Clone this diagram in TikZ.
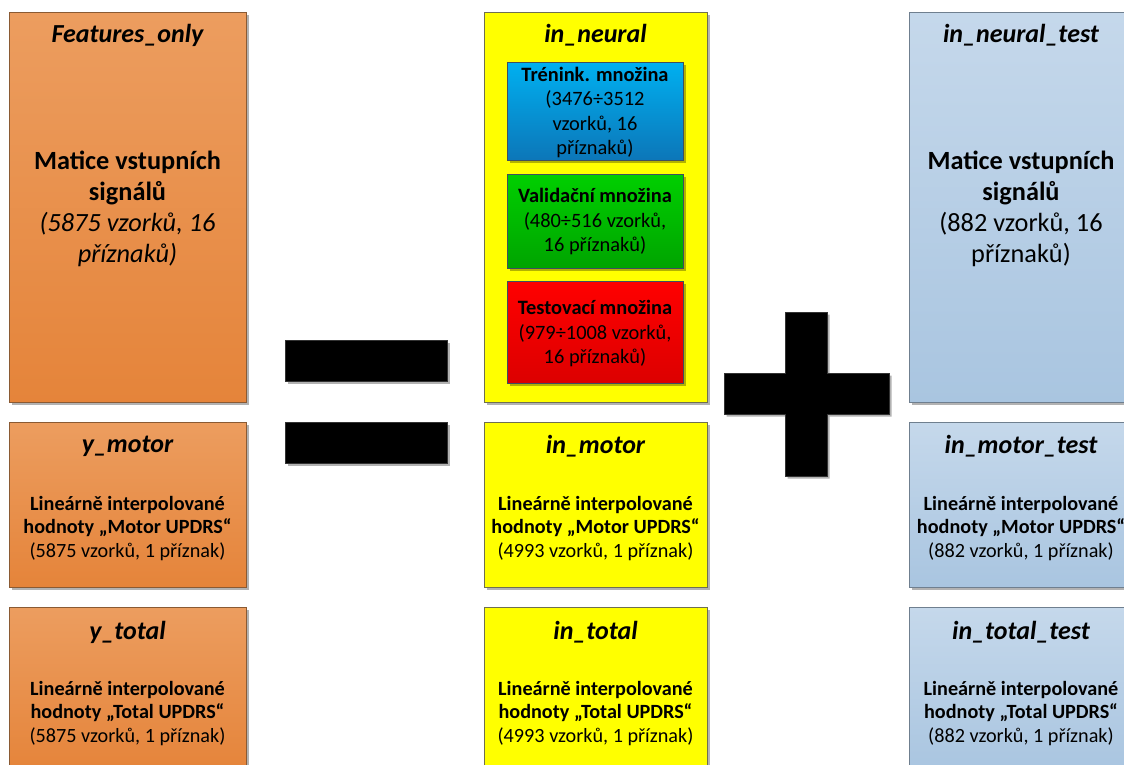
\documentclass[tikz,border=0pt]{standalone}
\usepackage{fontspec}
\setmainfont{Carlito}
\usetikzlibrary{shadows}
\definecolor{orT}{HTML}{EC9D5F}
\definecolor{orB}{HTML}{E5843A}
\definecolor{orD}{HTML}{8A5A33}
\definecolor{blT}{HTML}{C5D8EB}
\definecolor{blB}{HTML}{A9C5E0}
\definecolor{blD}{HTML}{6F7F8F}
\definecolor{yeF}{HTML}{FFFF00}
\definecolor{yeD}{HTML}{6F6F50}
\definecolor{cyT}{HTML}{00B0F0}
\definecolor{cyB}{HTML}{0C76B8}
\definecolor{grT}{HTML}{00CF00}
\definecolor{grB}{HTML}{00A400}
\definecolor{rdT}{HTML}{FF0000}
\definecolor{rdB}{HTML}{DC0000}
\definecolor{inD}{HTML}{3F4F5F}
\tikzset{
  box/.style={rectangle, line width=0.8pt, anchor=north west, inner sep=0pt,
    drop shadow={shadow xshift=2.5pt, shadow yshift=-2.5pt, opacity=0.3, fill=black}},
  orangebox/.style={box, top color=orT, bottom color=orB, draw=orD},
  bluebox/.style={box, top color=blT, bottom color=blB, draw=blD},
  yellowbox/.style={box, fill=yeF, draw=yeD},
  cyanbox/.style={box, top color=cyT, bottom color=cyB, draw=inD},
  greenbox/.style={box, top color=grT, bottom color=grB, draw=inD},
  redbox/.style={box, top color=rdT, bottom color=rdB, draw=inD},
  blackbar/.style={fill=black, draw=black!80, line width=0.5pt,
    drop shadow={shadow xshift=2.5pt, shadow yshift=-2.5pt, opacity=0.3, fill=black}},
  ttl/.style={inner sep=0pt, font=\fontsize{26}{31}\selectfont\bfseries\itshape},
  big/.style={inner sep=0pt, align=center, font=\fontsize{26.3}{31}\selectfont},
  body/.style={inner sep=0pt, align=center, font=\fontsize{20.2}{23.5}\selectfont},
  inner/.style={inner sep=0pt, align=center, font=\fontsize{20.4}{24.6}\selectfont},
}
\begin{document}
\begin{tikzpicture}[x=1pt, y=-1pt]
\useasboundingbox (0,0) rectangle (1124,764);
\clip (0,0) rectangle (1124,764);
% left column
\node[orangebox, minimum width=237, minimum height=390] (fo) at (9,12) {};
\node[orangebox, minimum width=237, minimum height=165] (ym) at (9,422) {};
\node[orangebox, minimum width=237, minimum height=165] (yt) at (9,607) {};
% middle column
\node[yellowbox, minimum width=223, minimum height=390] (inn) at (484,12) {};
\node[yellowbox, minimum width=223, minimum height=165] (inm) at (484,422) {};
\node[yellowbox, minimum width=223, minimum height=165] (intt) at (484,607) {};
\node[cyanbox, minimum width=176, minimum height=98] (tr) at (507,62) {};
\node[greenbox, minimum width=176, minimum height=94] (va) at (507,174) {};
\node[redbox, minimum width=176, minimum height=102] (te) at (507,281) {};
% right column
\node[bluebox, minimum width=224, minimum height=390] (nt) at (909,12) {};
\node[bluebox, minimum width=224, minimum height=165] (mt) at (909,422) {};
\node[bluebox, minimum width=224, minimum height=165] (tt) at (909,607) {};
% equals and plus
\node[blackbar, anchor=north west, minimum width=162, minimum height=41, inner sep=0pt] (eq1) at (285,340) {};
\node[blackbar, anchor=north west, minimum width=162, minimum height=41, inner sep=0pt] (eq2) at (285,422) {};
\path[blackbar] (785,312) -- (827,312) -- (827,373) -- (889,373) -- (889,414) -- (827,414)
  -- (827,476) -- (785,476) -- (785,414) -- (724,414) -- (724,373) -- (785,373) -- cycle;
% left texts
\node[ttl] (fot) at (127.5,35) {Features\_only};
\node[big] (fob) at (127.5,208.5) {\textbf{Matice vstupních}\\\textbf{signálů}\\\textit{(5875 vzorků, 16}\\\textit{příznaků)}};
\node[ttl] (ymt) at (127.5,446) {y\_motor};
\node[body] (ymb) at (127.5,528.5) {\textbf{Lineárně interpolované}\\\textbf{hodnoty „Motor UPDRS“}\\(5875 vzorků, 1 příznak)};
\node[ttl] (ytt) at (127.5,632) {y\_total};
\node[body] (ytb) at (127.5,713.5) {\textbf{Lineárně interpolované}\\\textbf{hodnoty „Total UPDRS“}\\(5875 vzorků, 1 příznak)};
% middle texts
\node[ttl] (innt) at (595.5,35) {in\_neural};
\node[inner] (trt) at (595,112.5) {\textbf{Trénink. množina}\\(3476÷3512\\vzorků, 16\\příznaků)};
\node[inner] (vat) at (595,221.5) {\textbf{Validační množina}\\(480÷516 vzorků,\\16 příznaků)};
\node[inner] (tet) at (595,333.5) {\textbf{Testovací množina}\\(979÷1008 vzorků,\\16 příznaků)};
\node[ttl] (inmt) at (595.5,446) {in\_motor};
\node[body] (inmb) at (595.5,528.5) {\textbf{Lineárně interpolované}\\\textbf{hodnoty „Motor UPDRS“}\\(4993 vzorků, 1 příznak)};
\node[ttl] (inttt) at (595.5,632) {in\_total};
\node[body] (inttb) at (595.5,713.5) {\textbf{Lineárně interpolované}\\\textbf{hodnoty „Total UPDRS“}\\(4993 vzorků, 1 příznak)};
% right texts
\node[ttl] (ntt) at (1021,35) {in\_neural\_test};
\node[big] (ntb) at (1021,208.5) {\textbf{Matice vstupních}\\\textbf{signálů}\\(882 vzorků, 16\\příznaků)};
\node[ttl] (mtt) at (1021,446) {in\_motor\_test};
\node[body] (mtb) at (1021,528.5) {\textbf{Lineárně interpolované}\\\textbf{hodnoty „Motor UPDRS“}\\(882 vzorků, 1 příznak)};
\node[ttl] (ttt) at (1021,632) {in\_total\_test};
\node[body] (ttb) at (1021,713.5) {\textbf{Lineárně interpolované}\\\textbf{hodnoty „Total UPDRS“}\\(882 vzorků, 1 příznak)};
\end{tikzpicture}
\end{document}
